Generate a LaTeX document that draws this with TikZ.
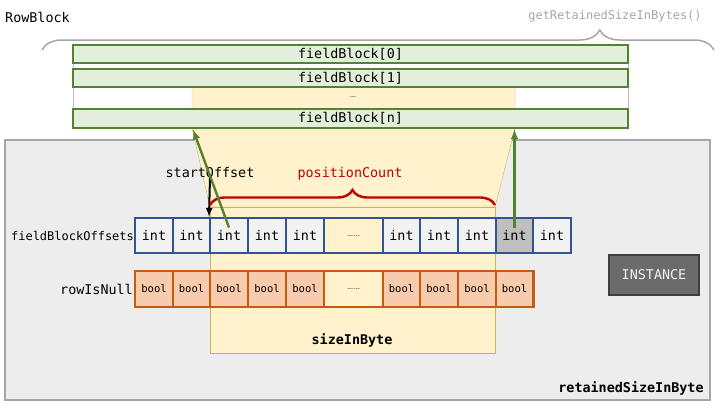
\documentclass[tikz,border=0pt]{standalone}
\usepackage{fontspec}
\setmonofont{DejaVu Sans Mono}
\usetikzlibrary{decorations.pathreplacing}
\definecolor{panelgray}{HTML}{EDEDED}
\definecolor{panelline}{HTML}{A6A6A6}
\definecolor{fbfill}{HTML}{E2EFDA}
\definecolor{fbline}{HTML}{548235}
\definecolor{sizefill}{HTML}{FFF2CC}
\definecolor{sizeline}{HTML}{C9B458}
\definecolor{intline}{HTML}{2F5597}
\definecolor{intfill}{HTML}{F2F2F2}
\definecolor{cellgray}{HTML}{BFBFBF}
\definecolor{boolfill}{HTML}{F8CBAD}
\definecolor{boolline}{HTML}{C55A11}
\definecolor{countred}{HTML}{C00000}
\definecolor{instfill}{HTML}{6B6B6B}
\definecolor{instline}{HTML}{3F3F3F}

\begin{document}
\begin{tikzpicture}[x=1bp,y=-1bp,
  font=\ttfamily\fontsize{13.4bp}{16bp}\selectfont,
  fbbox/.style={draw=fbline,fill=fbfill,line width=2.4bp,minimum width=555bp,minimum height=18bp,inner sep=0pt},
  intcell/.style={draw=intline,fill=intfill,line width=2.4bp,minimum width=37.6bp,minimum height=35bp,inner sep=0pt},
  boolcell/.style={draw=boolline,fill=boolfill,line width=2.4bp,minimum width=37.6bp,minimum height=36bp,inner sep=0pt,
    font=\ttfamily\fontsize{10.5bp}{12bp}\selectfont},
  dotsfont/.style={font=\rmfamily\fontsize{10bp}{12bp}\selectfont,text=black!75},
  boldlbl/.style={font=\ttfamily\bfseries\fontsize{13.4bp}{16bp}\selectfont,inner sep=0pt}]
\useasboundingbox (0,0) rectangle (720,409);
% background panel and rowblock area
\draw [panelline,fill=panelgray,line width=1.2bp] (5,140) rectangle (710,400);
\draw [gray!50,fill=white] (73,45) rectangle (628,128);
\draw [sizeline,fill=sizefill] (192,87) -- (515,87) -- (515,128) -- (495,207) -- (210,207) -- (192,128) -- cycle;
\node [draw=sizeline,fill=sizefill,minimum width=285bp,minimum height=146bp,anchor=north west,inner sep=0pt] (sizebox) at (210,207) {};
\node [boldlbl] (sizelbl) at (352,340) {sizeInByte};

% field blocks
\node [fbbox] (fb0) at (350.5,54) {fieldBlock[0]};
\node [fbbox] (fb1) at (350.5,78) {fieldBlock[1]};
\node [dotsfont] (fbdots) at (353,97) {…};
\node [fbbox,minimum height=19bp] (fbn) at (350.5,118.5) {fieldBlock[n]};

% labels
\node [inner sep=0pt] (rowblock) at (37.5,17) {RowBlock};
\node [inner sep=0pt,text=panelline,font=\ttfamily\fontsize{12bp}{14bp}\selectfont] (getsize) at (615,16) {getRetainedSizeInBytes()};
\coordinate (braceL) at (42,50);
\coordinate (braceR) at (714,50);
\draw [panelline,line width=1.5bp,decorate,decoration={brace,amplitude=20bp,aspect=0.83}] (braceL) -- (braceR);

% offsets row
\node [inner sep=0pt,font=\ttfamily\fontsize{12bp}{14bp}\selectfont] (offlbl) at (72.5,236) {fieldBlockOffsets};
\node [intcell] (i1) at (154,235.5) {int};
\node [intcell] (i2) at (191.5,235.5) {int};
\node [intcell] (i3) at (229,235.5) {int};
\node [intcell] (i4) at (267,235.5) {int};
\node [intcell] (i5) at (305,235.5) {int};
\node [intcell,fill=none,minimum width=59bp,dotsfont] (i6) at (353.5,235.5) {……};
\node [intcell] (i7) at (401.5,235.5) {int};
\node [intcell] (i8) at (439,235.5) {int};
\node [intcell] (i9) at (477,235.5) {int};
\node [intcell,fill=cellgray] (i10) at (514.5,235.5) {int};
\node [intcell] (i11) at (552,235.5) {int};

% null row
\node [inner sep=0pt] (nulllbl) at (96.5,289) {rowIsNull};
\node [boolcell] (b1) at (154,289) {bool};
\node [boolcell] (b2) at (191.5,289) {bool};
\node [boolcell] (b3) at (229,289) {bool};
\node [boolcell] (b4) at (267,289) {bool};
\node [boolcell] (b5) at (305,289) {bool};
\node [boolcell,fill=none,minimum width=59bp,dotsfont] (b6) at (353.5,289) {……};
\node [boolcell] (b7) at (401.5,289) {bool};
\node [boolcell] (b8) at (439,289) {bool};
\node [boolcell] (b9) at (477,289) {bool};
\node [boolcell] (b10) at (514.5,289) {bool};

% offsets and count
\node [inner sep=0pt] (startlbl) at (210,172) {startOffset};
\draw [>=latex,->,line width=2bp] (startlbl.south) -- (i3.north west);
\node [inner sep=0pt,text=countred] (countlbl) at (350,174) {positionCount};
\coordinate (countL) at (210,205);
\coordinate (countR) at (495,205);
\draw [countred,line width=2.4bp,decorate,decoration={brace,amplitude=15bp,aspect=0.5}] (countL) -- (countR);

% pointers into field blocks
\coordinate (g1) at ([yshift=8bp]i3.center);
\coordinate (g1to) at (193,129.5);
\draw [>=latex,->,fbline,line width=2.4bp] (g1) -- (g1to);
\coordinate (g2) at ([yshift=8bp]i10.center);
\draw [>=latex,->,fbline,line width=2.4bp] (g2) -- (g2 |- fbn.south);

\node [draw=instline,fill=instfill,line width=2.4bp,text=white!95!black,minimum width=90bp,minimum height=40bp] (inst) at (654,275) {INSTANCE};
\node [boldlbl] (retlbl) at (631,388) {retainedSizeInByte};
\end{tikzpicture}
\end{document}
